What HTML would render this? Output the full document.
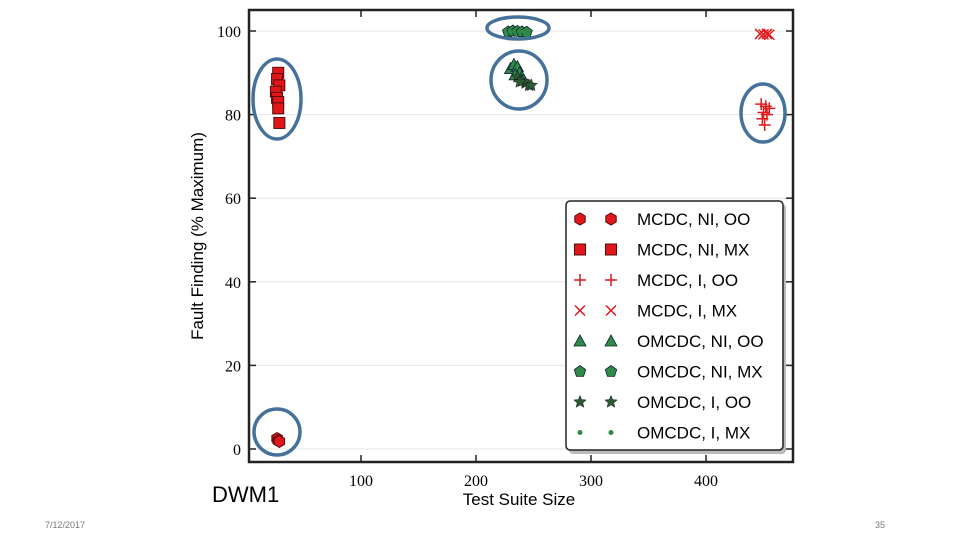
<!DOCTYPE html>
<html><head><meta charset="utf-8"><style>
body{margin:0;background:#fff;width:960px;height:540px;overflow:hidden;font-family:"Liberation Sans",sans-serif}
svg text{font-family:"Liberation Serif",serif}
</style></head><body>
<svg id="c" width="960" height="540">
<g id="grid"></g>
<g id="marks"></g>
<g id="axes"></g>
<g id="legend"></g>
<g id="ann"></g>
<text x="212" y="502" font-size="22" style="font-family:'Liberation Sans',sans-serif">DWM1</text>
<text x="45" y="528" font-size="9" fill="#777" style="font-family:'Liberation Sans',sans-serif">7/12/2017</text>
<text x="875" y="528" font-size="9" fill="#777" style="font-family:'Liberation Sans',sans-serif">35</text>
<text x="519" y="505" font-size="17" text-anchor="middle" style="font-family:'Liberation Sans',sans-serif">Test Suite Size</text>
<text transform="translate(203,236) rotate(-90)" font-size="17" text-anchor="middle" style="font-family:'Liberation Sans',sans-serif">Fault Finding (% Maximum)</text>
</svg>
<script>
const xTicks=[100,200,300,400];
const yTicks=[0,20,40,60,80,100];
const seriesNames=["MCDC, NI, OO","MCDC, NI, MX","MCDC, I, OO","MCDC, I, MX","OMCDC, NI, OO","OMCDC, NI, MX","OMCDC, I, OO","OMCDC, I, MX"];
const hexX=[27,28,29];const hexY=[2.5,2,1.8];
const sqX=[28,27,29,26,27,28,28,29];const sqY=[90,88.5,87,85.5,84,83,81.5,78];
const plusX=[448,452,455,450,453,449,451];const plusY=[82.5,82,81.5,80.5,80,79,77.5];
const xmX=[447,450,453,455];const xmY=[99.3,99.2,99.3,99.1];
const triX=[230,233,236,238,234,240];const triY=[91,92,91.5,90,89.5,89];
const penX=[228,232,236,240,244];const penY=[99.8,100,99.9,99.8,99.7];
const starX=[236,240,243,246,238,248];const starY=[89,88,87.5,87,87.8,87];
const dotX=[230,238,246];const dotY=[99.8,99.8,99.8];
const X0=246,XS=1.15,Y0=449,YS=4.18,L=249,R=793,T=10,B=462;
const xs=v=>X0+v*XS, ys=v=>Y0-v*YS;
const NS="http://www.w3.org/2000/svg";
function mk(p,t,a){const e=document.createElementNS(NS,t);for(const k in a)e.setAttribute(k,a[k]);p.appendChild(e);return e;}
const grid=document.getElementById('grid'),axes=document.getElementById('axes'),marks=document.getElementById('marks'),leg=document.getElementById('legend'),ann=document.getElementById('ann');
yTicks.forEach(v=>{
 const g=mk(grid,'line',{x1:L,x2:R,y1:ys(v),y2:ys(v),stroke:'#e6e6e6','stroke-width':1});
 
 
 mk(axes,'line',{x1:L,x2:L+7,y1:ys(v),y2:ys(v),stroke:'#222','stroke-width':1.5});
 mk(axes,'line',{x1:R,x2:R-7,y1:ys(v),y2:ys(v),stroke:'#222','stroke-width':1.5});
 const t=mk(axes,'text',{x:L-8,y:ys(v)+6,'font-size':16,'text-anchor':'end'});t.textContent=v;
 
 
});
xTicks.forEach(v=>{
 mk(axes,'line',{x1:xs(v),x2:xs(v),y1:B,y2:B-7,stroke:'#222','stroke-width':1.5});
 mk(axes,'line',{x1:xs(v),x2:xs(v),y1:T,y2:T+7,stroke:'#222','stroke-width':1.5});
 const t=mk(axes,'text',{x:xs(v),y:B+24,'font-size':16,'text-anchor':'middle'});t.textContent=v;
 
 
});
const fr=mk(axes,'rect',{x:L,y:T,width:R-L,height:B-T,fill:'none',stroke:'#222','stroke-width':2.5});


const RED='#e0161b',GR='#2f8a4a',DG='#2d5a36';
function hexPts(x,y,r){let p=[];for(let i=0;i<6;i++){const a=Math.PI/3*i+Math.PI/6;p.push((x+r*Math.cos(a))+','+(y+r*Math.sin(a)));}return p.join(' ');}
function pentPts(x,y,r){let p=[];for(let i=0;i<5;i++){const a=-Math.PI/2+2*Math.PI/5*i;p.push((x+r*Math.cos(a))+','+(y+r*Math.sin(a)));}return p.join(' ');}
function starPts(x,y,r){let p=[];for(let i=0;i<10;i++){const a=-Math.PI/2+Math.PI/5*i,rr=i%2?r*0.45:r;p.push((x+rr*Math.cos(a))+','+(y+rr*Math.sin(a)));}return p.join(' ');}
function marker(p,type,x,y){
 let e;
 if(type==0)e=mk(p,'polygon',{points:hexPts(x,y,6),fill:RED,stroke:'#5a0a0a','stroke-width':1});
 else if(type==1)e=mk(p,'rect',{x:x-5.5,y:y-5.5,width:11,height:11,fill:RED,stroke:'#5a0a0a','stroke-width':1});
 else if(type==2)e=mk(p,'path',{d:`M${x-6},${y}H${x+6}M${x},${y-6}V${y+6}`,stroke:RED,'stroke-width':1.5});
 else if(type==3)e=mk(p,'path',{d:`M${x-5},${y-5}L${x+5},${y+5}M${x-5},${y+5}L${x+5},${y-5}`,stroke:RED,'stroke-width':1.5});
 else if(type==4)e=mk(p,'polygon',{points:`${x},${y-6} ${x+6},${y+5} ${x-6},${y+5}`,fill:GR,stroke:'#123',"stroke-width":0.8});
 else if(type==5)e=mk(p,'polygon',{points:pentPts(x,y,6),fill:GR,stroke:'#123','stroke-width':0.8});
 else if(type==6)e=mk(p,'polygon',{points:starPts(x,y,6.5),fill:DG,stroke:'#111','stroke-width':0.5});
 else e=mk(p,'circle',{cx:x,cy:y,r:2.5,fill:GR});
 return e;
}
const sets=[[hexX,hexY],[sqX,sqY],[plusX,plusY],[xmX,xmY],[triX,triY],[penX,penY],[starX,starY],[dotX,dotY]];
sets.forEach((s,k)=>{s[0].forEach((xv,i)=>{
 const e=marker(marks,k,xs(xv),ys(s[1][i]));
 
 
});});
mk(leg,'rect',{x:569,y:204,width:217,height:250,fill:'#bbb',rx:4});
const lb=mk(leg,'rect',{x:566,y:201,width:217,height:249,fill:'#fff',stroke:'#222','stroke-width':1.5,rx:4});


seriesNames.forEach((n,k)=>{
 const y=219+k*30.5;
 const g=mk(leg,'g',{});
 
 
 marker(g,k,580,y);marker(g,k,611,y);
 const t=mk(g,'text',{x:637,y:y+6,'font-size':17,style:"font-family:'Liberation Sans',sans-serif"});t.textContent=n;
});
[[277,99,24,40],[518,28,31,11],[519,80,28,29],[763,113,22,29],[277,432,23,23]].forEach(a=>{
 const e=mk(ann,'ellipse',{cx:a[0],cy:a[1],rx:a[2],ry:a[3],fill:'none',stroke:'#46719a','stroke-width':3.5});
 
 
});
</script>
</body></html>
